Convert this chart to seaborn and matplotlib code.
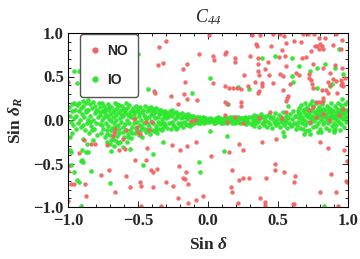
import matplotlib
matplotlib.use("Agg")
import matplotlib.pyplot as plt
import seaborn as sns
import pandas as pd
from matplotlib.ticker import MultipleLocator
from matplotlib.lines import Line2D

# ---------------- data ----------------
no_points = [
    (-0.793,0.87),(-0.669,0.905),(-0.30,0.91),(-0.348,0.84),(-0.062,0.755),(-0.36,0.63),
    (-0.324,0.66),(-0.15,0.64),(-0.176,0.59),(-0.876,0.51),(-0.669,0.47),(-0.566,0.46),
    (-1.0,0.44),(-0.162,0.44),(-0.384,0.33),(-0.376,0.31),(-0.262,0.28),(-0.174,0.295),
    (-0.152,0.245),(-0.212,0.18),(-0.079,0.226),
    (0.01,0.973),(0.314,0.973),(0.374,0.977),(0.462,0.985),(0.545,0.962),(0.514,0.985),
    (0.676,0.985),(0.712,0.985),(0.76,0.985),(0.914,0.985),(0.795,0.939),(0.838,0.939),
    (0.957,0.923),(0.343,0.877),(0.348,0.855),(0.452,0.847),(0.557,0.881),(0.617,0.904),
    (0.667,0.893),(0.764,0.851),(0.781,0.847),(0.802,0.87),(0.812,0.855),(0.79,0.812),
    (0.819,0.816),(0.895,0.858),(0.95,0.812),(0.738,0.793),(0.526,0.801),(0.128,0.785),
    (0.124,0.762),(0.038,0.732),(0.045,0.686),(0.195,0.709),(0.195,0.67),(0.302,0.732),
    (0.36,0.709),(0.431,0.67),(0.509,0.724),(0.55,0.739),(0.669,0.709),(0.70,0.724),
    (0.36,0.64),(0.56,0.617),(0.75,0.64),(0.819,0.602),(0.91,0.632),(0.955,0.602),
    (0.355,0.559),(0.367,0.513),(0.41,0.582),(0.438,0.517),(0.259,0.517),(0.514,0.525),
    (0.538,0.502),(0.629,0.544),(0.652,0.517),(0.719,0.525),(0.724,0.479),(0.738,0.464),
    (0.743,0.41),(0.871,0.54),(0.89,0.471),(0.914,0.448),(0.948,0.464),(0.957,0.425),
    (0.962,0.391),(0.948,0.402),(0.855,0.441),(0.874,0.402),(0.981,0.487),(0.038,0.429),
    (0.338,0.441),(0.386,0.429),(0.386,0.391),(0.462,0.429),(0.586,0.41),(0.124,0.387),
    (0.152,0.372),(0.176,0.364),(0.205,0.372),(0.236,0.353),(0.283,0.387),(0.367,0.333),
    (0.355,0.314),(0.538,0.341),(0.752,0.364),(0.812,0.349),(0.843,0.349),(0.859,0.31),
    (0.919,0.314),(0.564,0.257),(0.557,0.218),(0.571,0.276),(0.124,0.211),(0.133,0.188),
    (0.238,0.211),(0.238,0.157),(0.443,0.096),(0.557,0.096),(0.771,0.211),(0.795,0.211),
    (0.814,0.211),(0.819,0.257),
    (-0.835,-0.28),(-0.804,-0.28),(-0.924,-0.379),(-0.724,-0.287),(-0.633,-0.349),
    (-0.59,-0.333),(-0.438,-0.318),(-0.257,-0.287),(-0.197,-0.349),(-0.15,-0.303),
    (-0.085,-0.257),(-0.519,-0.464),(-0.443,-0.464),(-0.407,-0.571),(-0.39,-0.594),
    (-0.366,-0.563),(-0.705,-0.571),(-0.764,-0.628),(-0.585,-0.647),(-0.485,-0.716),
    (-0.476,-0.755),(-0.395,-0.774),(-0.554,-0.766),(-0.662,-0.831),(-0.871,-0.877),
    (-0.98,-0.74),(-0.954,-0.74),(-0.876,-0.74),(-1.0,-0.931),(-0.3,-0.716),(-0.252,-0.755),
    (-0.204,-0.532),(-0.157,-0.6),(-0.176,-0.663),(-0.162,-0.678),(-0.14,-0.74),
    (-0.212,-0.893),(-0.145,-0.954),(-0.085,-0.916),(-0.038,-0.87),(-0.335,-0.985),
    (-0.478,-0.992),(-1.0,-0.525),(-1.0,-0.582),
    (0.024,-0.41),(0.148,-0.364),(0.224,-0.28),(0.252,-0.341),(0.171,-0.571),(0.224,-0.686),
    (0.252,-0.67),(0.295,-0.663),(0.167,-0.766),(0.174,-0.824),(0.216,-0.958),(0.388,-0.249),
    (0.488,-0.222),(0.481,-0.502),(0.481,-0.579),(0.414,-0.67),(0.545,-0.602),(0.624,-0.647),
    (0.614,-0.716),(0.374,-0.893),(0.405,-0.939),(0.41,-0.977),(0.605,-0.962),(0.615,-0.962),
    (0.803,-0.249),(0.859,-0.326),(0.881,-0.625),(0.974,-0.341),(0.99,-0.471),(0.986,-0.701),
    (0.99,-0.716),(0.803,-0.831),(0.917,-0.831),(0.926,-0.992),
    (-0.531,0.015),(-0.443,-0.019),(-0.402,-0.027),(-0.662,-0.099),(-0.674,-0.145),
    (-0.681,-0.184),(-0.583,-0.115),(-0.502,-0.142),(-0.485,-0.165),(-0.61,-0.222),
    (-0.424,-0.115),(-0.509,-0.076),(-0.121,-0.015),(-0.09,0.0),(-0.883,-0.23),
    (0.124,0.061),(0.195,0.038),(0.133,-0.027),(0.248,-0.038),(0.367,0.023),(0.529,0.019),
    (0.719,0.115),(0.748,0.146),(0.729,-0.019),(0.771,0.038),(0.824,0.069),(0.867,0.0),
    (0.938,0.061),(0.962,0.123),
]

io_scatter = [
    (-0.502,0.76),(-0.89,0.69),(-0.955,0.565),(-0.924,0.56),(-0.938,0.42),(-0.829,0.49),
    (-0.866,0.35),(-0.748,0.31),(-0.586,0.35),(-0.43,0.36),(-0.114,0.31),
    (0.014,0.479),(0.217,0.379),(0.295,0.36),(0.386,0.716),(0.481,0.732),(0.598,0.709),
    (0.652,0.617),(0.729,0.563),(0.776,0.594),(0.838,0.64),(0.91,0.594),(0.962,0.525),
    (0.598,0.502),(0.605,0.441),(0.886,0.41),(0.871,0.391),(0.776,0.364),(0.933,0.812),
    (0.143,0.18),(0.569,0.161),
    (-0.895,-0.218),(-0.866,-0.272),(-0.824,-0.226),(-0.871,-0.364),(-0.857,-0.364),
    (-0.90,-0.341),(-0.985,-0.341),(-0.98,-0.364),(-0.90,-0.456),(-0.895,-0.486),
    (-0.904,-0.471),(-0.976,-0.517),(-0.954,-0.6),(-0.833,-0.582),(-0.693,-0.353),
    (-0.554,-0.333),(-0.324,-0.257),(-0.39,-0.387),(-0.462,-0.517),(-0.697,-0.724),
    (-0.933,-0.693),(-0.919,-0.709),(-0.066,-0.479),(-0.054,-0.594),(-0.905,-0.99),
    (0.014,-0.123),(0.133,-0.188),(0.117,-0.352),(0.538,-0.134),(0.545,-0.18),
    (0.688,-0.157),(0.731,-0.165),(0.786,-0.142),(0.81,-0.134),(0.867,-0.119),
    (0.898,-0.142),(0.91,-0.103),(0.945,-0.111),(0.831,-0.985),
]

io_band = [
    (-0.99,0.15),(-0.985,0.05),(-0.98,-0.02),(-0.975,0.18),(-0.97,0.1),(-0.965,-0.06),
    (-0.96,0.02),(-0.955,0.2),(-0.95,0.12),(-0.945,-0.1),(-0.94,0.05),(-0.935,0.17),
    (-0.93,-0.03),(-0.925,0.1),(-0.92,0.19),(-0.915,0.0),(-0.91,0.14),(-0.905,-0.08),
    (-0.90,0.07),(-0.985,-0.2),(-0.975,-0.15),
    (-0.895,0.22),(-0.89,0.16),(-0.885,0.03),(-0.88,-0.12),(-0.875,0.19),(-0.87,0.09),
    (-0.865,-0.04),(-0.86,0.23),(-0.855,0.12),(-0.85,-0.15),(-0.845,0.05),(-0.84,0.18),
    (-0.835,-0.07),(-0.83,0.14),(-0.825,0.0),(-0.82,0.21),(-0.815,-0.1),(-0.81,0.08),
    (-0.805,0.16),(-0.80,-0.03),(-0.795,0.12),(-0.79,-0.17),(-0.785,0.04),(-0.78,0.19),
    (-0.89,-0.06),(-0.86,0.0),(-0.83,-0.12),(-0.80,0.1),(-0.875,0.12),(-0.845,-0.02),
    (-0.775,0.15),(-0.772,-0.05),(-0.768,0.06),(-0.765,-0.15),(-0.76,0.19),(-0.757,0.0),
    (-0.753,0.1),(-0.75,-0.1),(-0.746,0.03),(-0.742,0.16),(-0.738,-0.2),(-0.735,0.08),
    (-0.73,-0.03),(-0.727,0.13),(-0.723,-0.12),(-0.72,0.05),(-0.716,0.18),(-0.712,-0.07),
    (-0.708,0.01),(-0.705,0.11),(-0.70,-0.17),(-0.697,0.07),(-0.693,-0.01),(-0.69,0.15),
    (-0.686,-0.09),(-0.682,0.04),(-0.678,-0.22),(-0.675,0.12),(-0.67,-0.04),(-0.667,0.2),
    (-0.663,-0.13),(-0.66,0.06),(-0.656,0.0),(-0.652,0.14),(-0.648,-0.18),(-0.645,0.09),
    (-0.64,-0.06),(-0.637,0.17),(-0.633,-0.1),(-0.63,0.02),(-0.626,-0.25),(-0.622,0.11),
    (-0.618,-0.02),(-0.615,0.16),(-0.61,-0.14),(-0.607,0.05),(-0.603,-0.2),(-0.60,0.13),
    (-0.596,-0.05),(-0.592,0.08),(-0.588,0.19),(-0.585,-0.11),(-0.58,0.0),(-0.577,0.14),
    (-0.573,-0.16),(-0.57,0.06),(-0.566,-0.03),(-0.562,0.17),(-0.558,-0.12),(-0.555,0.09),
    (-0.55,-0.21),(-0.547,0.03),(-0.543,0.12),(-0.54,-0.08),
    (-0.77,0.09),(-0.755,-0.06),(-0.74,0.12),(-0.725,-0.16),(-0.71,0.15),(-0.695,-0.12),
    (-0.68,0.09),(-0.665,-0.08),(-0.65,0.18),(-0.635,-0.15),(-0.62,0.07),(-0.605,-0.08),
    (-0.59,0.1),(-0.575,-0.19),(-0.56,0.05),(-0.545,-0.15),(-0.7,-0.28),(-0.67,-0.3),
    (-0.64,-0.27),(-0.61,-0.31),(-0.66,-0.24),(-0.69,-0.23),(-0.58,-0.25),(-0.72,-0.25),
    (-0.535,0.14),(-0.532,-0.04),(-0.528,0.07),(-0.524,-0.15),(-0.52,0.02),(-0.516,0.16),
    (-0.512,-0.09),(-0.508,0.1),(-0.504,-0.02),(-0.5,0.13),(-0.496,-0.17),(-0.492,0.05),
    (-0.488,-0.06),(-0.484,0.15),(-0.48,-0.12),(-0.476,0.0),(-0.472,0.09),(-0.468,-0.19),
    (-0.464,0.12),(-0.46,-0.03),(-0.456,0.06),(-0.452,-0.1),(-0.448,0.16),(-0.444,0.01),
    (-0.44,-0.14),(-0.436,0.1),(-0.432,-0.05),(-0.428,0.14),(-0.424,-0.08),(-0.42,0.04),
    (-0.416,-0.16),(-0.412,0.11),(-0.408,-0.01),(-0.404,0.15),(-0.4,-0.11),(-0.396,0.06),
    (-0.392,-0.04),(-0.388,0.13),(-0.384,-0.13),(-0.38,0.02),(-0.376,0.09),(-0.372,-0.07),
    (-0.368,0.14),(-0.364,-0.15),(-0.36,0.04),(-0.356,-0.02),(-0.352,0.11),(-0.348,-0.1),
    (-0.344,0.07),(-0.34,-0.05),(-0.336,0.12),(-0.332,-0.12),(-0.328,0.01),(-0.324,0.09),
    (-0.32,-0.08),(-0.316,0.05),(-0.312,-0.03),(-0.308,0.1),(-0.304,-0.06),(-0.30,0.02),
    (-0.53,0.1),(-0.51,-0.12),(-0.49,0.08),(-0.47,-0.08),(-0.45,0.03),(-0.43,-0.11),
    (-0.41,0.07),(-0.39,0.1),(-0.37,-0.1),(-0.35,0.08),(-0.33,-0.02),(-0.31,0.07),
    (-0.296,0.08),(-0.29,-0.09),(-0.284,0.03),(-0.278,-0.04),(-0.272,0.1),(-0.266,-0.1),
    (-0.26,0.05),(-0.254,-0.02),(-0.248,0.08),(-0.242,-0.07),(-0.236,0.01),(-0.23,0.09),
    (-0.224,-0.09),(-0.218,0.04),(-0.212,-0.03),(-0.206,0.07),(-0.2,-0.06),(-0.194,0.02),
    (-0.188,0.08),(-0.182,-0.08),(-0.176,0.04),(-0.17,-0.02),(-0.164,0.06),(-0.158,-0.05),
    (-0.152,0.01),(-0.146,0.07),(-0.14,-0.06),(-0.134,0.03),(-0.128,-0.03),(-0.122,0.05),
    (-0.116,-0.05),(-0.11,0.01),(-0.104,0.05),(-0.098,-0.04),(-0.092,0.02),(-0.086,-0.02),
    (-0.08,0.04),(-0.074,-0.04),(-0.068,0.01),(-0.062,0.03),(-0.056,-0.03),(-0.05,0.02),
    (-0.044,-0.01),(-0.038,0.03),(-0.032,-0.03),(-0.026,0.01),(-0.02,0.02),(-0.014,-0.02),
    (-0.008,0.0),(-0.28,0.06),(-0.25,-0.06),(-0.22,0.06),(-0.19,-0.04),(-0.16,0.03),
    (-0.13,-0.07),(-0.1,0.03),(-0.07,-0.02),(-0.04,0.0),(-0.26,0.11),(-0.23,-0.1),
    (0.0,0.01),(0.008,-0.02),(0.016,0.02),(0.024,-0.01),(0.032,0.01),(0.04,-0.03),
    (0.048,0.0),(0.056,0.02),(0.064,-0.02),(0.072,0.01),(0.08,-0.01),(0.088,0.02),
    (0.096,-0.03),(0.104,0.0),(0.112,0.02),(0.12,-0.02),(0.128,0.01),(0.136,-0.04),
    (0.144,0.02),(0.152,-0.01),(0.16,0.03),(0.168,-0.03),(0.176,0.0),(0.184,0.02),
    (0.192,-0.04),(0.2,0.01),(0.208,-0.02),(0.216,0.03),(0.224,-0.01),(0.232,-0.04),
    (0.24,0.02),(0.248,0.0),(0.256,-0.03),(0.264,0.03),(0.272,-0.05),(0.28,0.01),
    (0.288,-0.02),(0.296,0.04),(0.03,0.0),(0.07,0.03),(0.11,-0.04),(0.15,0.0),
    (0.19,0.03),(0.23,0.02),(0.27,-0.01),(0.05,-0.035),(0.17,0.04),
    (0.304,-0.05),(0.311,0.03),(0.318,-0.02),(0.325,0.06),(0.332,-0.07),(0.339,0.01),
    (0.346,-0.04),(0.353,0.05),(0.36,-0.01),(0.367,-0.08),(0.374,0.02),(0.381,0.07),
    (0.388,-0.03),(0.395,0.04),(0.402,-0.06),(0.409,0.0),(0.416,0.05),(0.423,-0.08),
    (0.43,-0.02),(0.437,0.07),(0.444,-0.05),(0.451,0.02),(0.458,-0.09),(0.465,0.04),
    (0.472,-0.01),(0.479,0.08),(0.486,-0.06),(0.493,0.01),(0.5,-0.03),(0.507,0.06),
    (0.514,-0.08),(0.521,0.03),(0.528,-0.02),(0.535,0.09),(0.542,-0.06),(0.549,0.0),
    (0.556,0.05),(0.563,-0.09),(0.57,0.02),(0.577,-0.04),(0.584,0.07),(0.591,-0.07),
    (0.598,0.01),(0.605,0.1),(0.612,-0.03),(0.619,0.05),(0.626,-0.1),(0.32,0.0),
    (0.36,0.03),(0.4,-0.02),(0.44,0.04),(0.48,-0.04),(0.52,0.0),(0.56,-0.02),(0.6,-0.06),
    (0.632,0.05),(0.636,-0.06),(0.64,0.1),(0.644,-0.02),(0.648,0.14),(0.652,0.02),
    (0.656,-0.09),(0.66,0.07),(0.664,0.17),(0.668,-0.04),(0.672,0.04),(0.676,0.12),
    (0.68,-0.1),(0.684,0.0),(0.688,0.09),(0.692,0.19),(0.696,-0.06),(0.7,0.06),
    (0.704,0.15),(0.708,-0.02),(0.712,0.03),(0.716,0.11),(0.72,-0.11),(0.724,0.08),
    (0.728,0.18),(0.732,-0.04),(0.736,0.01),(0.74,0.13),(0.744,0.05),(0.748,-0.08),
    (0.752,0.16),(0.756,0.09),(0.76,-0.01),(0.764,0.04),(0.768,0.2),(0.772,-0.07),
    (0.776,0.12),(0.78,0.02),(0.784,0.07),(0.788,-0.03),(0.792,0.15),(0.796,0.1),
    (0.8,-0.1),(0.804,0.05),(0.808,0.0),(0.812,0.18),(0.816,0.08),(0.82,-0.05),
    (0.824,0.13),(0.828,0.03),(0.832,-0.02),(0.836,0.11),(0.84,0.06),(0.844,-0.09),
    (0.848,0.16),(0.852,0.01),(0.856,0.09),(0.86,-0.04),(0.864,0.14),(0.868,0.04),
    (0.872,-0.01),(0.876,0.19),(0.88,0.07),(0.884,-0.07),(0.888,0.12),(0.892,0.02),
    (0.896,0.1),(0.9,-0.03),(0.904,0.16),(0.908,0.05),(0.912,-0.06),(0.916,0.08),
    (0.92,0.13),(0.924,0.0),(0.928,0.2),(0.932,0.06),(0.936,-0.02),(0.94,0.11),
    (0.944,0.03),(0.948,0.17),(0.952,-0.05),(0.956,0.09),(0.96,0.14),(0.964,0.01),
    (0.968,0.07),(0.972,-0.08),(0.976,0.18),(0.98,0.04),(0.984,0.12),(0.988,-0.02),
    (0.992,0.09),(0.996,0.21),(0.65,0.08),(0.67,-0.01),(0.69,0.13),(0.71,0.06),
    (0.73,0.1),(0.75,0.02),(0.77,0.08),(0.79,0.05),(0.81,0.11),(0.83,0.07),(0.85,0.04),
    (0.87,0.1),(0.89,0.05),(0.91,0.02),(0.93,0.09),(0.95,0.06),(0.97,0.11),(0.99,0.03),
    (0.74,0.22),(0.82,0.22),(0.96,0.24),(0.7,-0.13),(0.9,-0.12),
]

series_labels = ["NO", "IO"]
series_colors = {"NO": "#f26464", "IO": "#2ee62e"}
x_ticks = [-1.0, -0.5, 0.0, 0.5, 1.0]
y_ticks = [-1.0, -0.5, 0.0, 0.5, 1.0]

# ---------------- build table ----------------
rows = [(x, y, "IO") for x, y in io_band + io_scatter] + [(x, y, "NO") for x, y in no_points]
df = pd.DataFrame(rows, columns=["sin_delta", "sin_delta_R", "case"])

# ---------------- style ----------------
sns.set_theme(style="white")
plt.rcParams["font.family"] = ["Liberation Serif", "DejaVu Serif"]
plt.rcParams["mathtext.fontset"] = "custom"
plt.rcParams["mathtext.rm"] = "Liberation Serif:bold"
plt.rcParams["mathtext.it"] = "Liberation Serif:italic:bold"
plt.rcParams["mathtext.bf"] = "Liberation Serif:bold"
plt.rcParams["mathtext.cal"] = "Liberation Serif:italic"

fig = plt.figure(figsize=(3.6, 2.59), dpi=100)
ax = fig.add_axes([68/360, 52/259, 280/360, 174/259])

sns.scatterplot(data=df[df["case"] == "IO"], x="sin_delta", y="sin_delta_R",
                color=series_colors["IO"], s=11, linewidth=0, alpha=0.95, ax=ax, legend=False)
sns.scatterplot(data=df[df["case"] == "NO"], x="sin_delta", y="sin_delta_R",
                color=series_colors["NO"], s=10, linewidth=0, alpha=0.95, ax=ax, legend=False)

ax.set_xlim(-1, 1)
ax.set_ylim(-1, 1)
ax.set_xticks(x_ticks)
ax.set_yticks(y_ticks)
ax.set_xticklabels([f"{t:.1f}".replace("-", "\u2212") for t in x_ticks])
ax.set_yticklabels([f"{t:.1f}".replace("-", "\u2212") for t in y_ticks])
ax.xaxis.set_minor_locator(MultipleLocator(0.1))
ax.yaxis.set_minor_locator(MultipleLocator(0.1))
ax.tick_params(which="both", direction="in", top=True, right=True, bottom=True, left=True,
               color="black", width=0.6)
ax.tick_params(which="major", length=4.5, labelsize=12)
ax.tick_params(axis="x", which="major", pad=4)
ax.tick_params(axis="y", which="major", pad=3)
ax.tick_params(which="minor", length=2.5)
for lab in ax.get_xticklabels() + ax.get_yticklabels():
    lab.set_fontweight("bold")
for sp in ax.spines.values():
    sp.set_color("black")
    sp.set_linewidth(0.8)

ax.set_xlabel(r"Sin $\delta$", fontsize=12.5, fontweight="bold", labelpad=6)
ax.set_ylabel(r"Sin $\delta_{R}$", fontsize=12.5, fontweight="bold", labelpad=6)
ax.set_title(r"$\mathcal{C}_{\mathcal{44}}$", fontsize=13, pad=8)

handles = [Line2D([], [], linestyle="none", marker="o", markersize=4.5,
                  markerfacecolor=series_colors[k], markeredgewidth=0) for k in series_labels]
leg = ax.legend(handles, series_labels, loc="upper left", bbox_to_anchor=(0.043, 0.995),
                frameon=True, fancybox=True, handlelength=0.8, handletextpad=0.45,
                labelspacing=1.1, borderpad=0.7, borderaxespad=0.0,
                prop={"family": "Liberation Sans", "weight": "bold", "size": 10})
leg.get_frame().set_edgecolor("#555555")
leg.get_frame().set_linewidth(1.0)
leg.get_frame().set_alpha(1.0)

fig.savefig("out.png", dpi=100)
